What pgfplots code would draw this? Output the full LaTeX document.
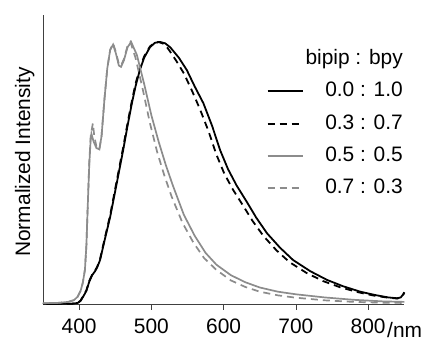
\documentclass[border=0pt]{standalone}
\usepackage{fontspec}
\setmainfont{Liberation Sans}
\usepackage{pgfplots}
\pgfplotsset{compat=1.18}
\definecolor{lgray}{RGB}{140,140,140}
\newcommand{\bigf}{\fontsize{21}{25}\selectfont}
\begin{document}
\begin{tikzpicture}
\begin{axis}[
  at={(0,0)}, anchor=south west,
  scale only axis, width=361.3bp, height=289bp,
  xmin=350, xmax=850, ymin=0, ymax=1.103,
  axis lines=left,
  axis line style={-, line width=0.8bp, black!75},
  xtick={400,500,600,700,800}, ytick=\empty,
  tick align=outside, major tick length=6bp,
  tick style={line width=0.8bp, black!75},
  /pgf/number format/assume math mode=true,
  xticklabel style={font=\bigf, inner sep=2bp, yshift=-7bp},
  clip=false,
  legend image code/.code={\draw[#1] (0bp,0bp) -- (35bp,0bp);},
  legend cell align=right,
  legend style={at={(rel axis cs:1.002,0.888)}, anchor=north east, draw=none, fill=none,
    font=\bigf, row sep=9.3bp, inner sep=0bp,
    nodes={text height=15bp, text depth=4bp}},
]
\addlegendimage{empty legend}
\addlegendentry{bipip : bpy}
% 0.0 : 1.0
\addplot[black, line width=1.8bp] coordinates {
(350,0.0) (390,0.001) (398,0.004) (402,0.012) (406,0.03) (410,0.05) (414,0.085) (418,0.11) (422,0.125) (425,0.14) (429,0.168) (435,0.24) (443,0.333) (452,0.46) (461,0.588) (467,0.68) (473,0.766) (478,0.83) (484,0.893) (490,0.94) (498,0.98) (505,0.997) (512,1.0) (519,0.995) (526,0.98) (538,0.94) (549,0.893) (560,0.83) (572,0.766) (584,0.68) (595,0.588) (606,0.515) (618,0.452) (632,0.39) (645,0.33) (660,0.27) (678,0.215) (696,0.168) (720,0.125) (743,0.092) (765,0.068) (789,0.047) (810,0.034) (828,0.025) (840,0.022) (845,0.025) (848,0.035) (850,0.045)
};
\addlegendentry{0.0 : 1.0}
% 0.3 : 0.7
\addplot[black, line width=1.8bp, dash pattern=on 7bp off 5bp] coordinates {
(350,0.0) (390,0.001) (398,0.004) (402,0.013) (406,0.032) (410,0.052) (414,0.088) (418,0.112) (422,0.127) (425,0.142) (429,0.172) (435,0.245) (443,0.34) (452,0.47) (461,0.598) (467,0.69) (473,0.775) (478,0.84) (484,0.9) (490,0.945) (498,0.983) (505,0.998) (510,1.0) (517,0.993) (523,0.975) (534,0.93) (545,0.88) (556,0.815) (567,0.745) (579,0.66) (590,0.57) (601,0.497) (613,0.436) (627,0.375) (640,0.317) (655,0.26) (673,0.205) (691,0.16) (715,0.118) (738,0.087) (761,0.064) (786,0.045) (808,0.032) (828,0.024) (840,0.021) (845,0.024) (848,0.033) (850,0.042)
};
\addlegendentry{0.3 : 0.7}
% 0.5 : 0.5
\addplot[lgray, line width=1.7bp] coordinates {
(350,0.003) (370,0.004) (385,0.008) (393,0.015) (398,0.028) (402,0.05) (405,0.08) (408,0.13) (410,0.22) (412,0.38) (414,0.53) (416,0.63) (417,0.65) (420,0.62) (424,0.595) (428,0.59) (431,0.64) (435,0.78) (439,0.9) (443,0.97) (447,0.99) (451,0.955) (455,0.91) (458,0.905) (462,0.93) (467,0.98) (472,1.0) (480,0.95) (490,0.84) (500,0.72) (510,0.62) (520,0.53) (530,0.45) (545,0.34) (560,0.26) (575,0.195) (590,0.15) (610,0.11) (630,0.083) (650,0.063) (675,0.047) (700,0.037) (740,0.025) (780,0.016) (820,0.01) (850,0.008)
};
\addlegendentry{0.5 : 0.5}
% 0.7 : 0.3
\addplot[lgray, line width=1.7bp, dash pattern=on 7bp off 5bp] coordinates {
(350,0.003) (370,0.004) (385,0.008) (393,0.015) (398,0.028) (402,0.05) (405,0.08) (408,0.13) (410,0.22) (412,0.38) (414,0.54) (416,0.64) (419,0.69) (421,0.64) (424,0.60) (428,0.59) (431,0.64) (435,0.78) (439,0.9) (443,0.97) (447,0.995) (451,0.96) (455,0.915) (458,0.91) (462,0.935) (467,0.985) (471,1.0) (478,0.94) (488,0.82) (498,0.69) (508,0.58) (518,0.49) (528,0.41) (543,0.31) (558,0.235) (573,0.175) (590,0.13) (610,0.09) (630,0.065) (650,0.047) (675,0.033) (700,0.024) (740,0.014) (780,0.008) (820,0.005) (850,0.004)
};
\addlegendentry{0.7 : 0.3}
\end{axis}
\node[anchor=base west, font=\bigf, inner sep=0pt] at (344bp,-34bp) {/nm};
\node[rotate=90, anchor=base, font=\bigf, inner sep=0pt] at (-13bp,142bp) {Normalized Intensity};
\path (-43bp,-34bp) rectangle (384bp,304bp);
\end{tikzpicture}
\end{document}
